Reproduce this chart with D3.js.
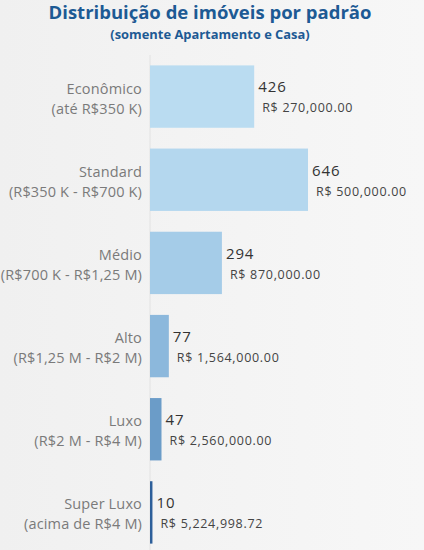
<!DOCTYPE html>
<html>
<head>
<meta charset="utf-8">
<script src="https://cdn.jsdelivr.net/npm/d3@7"></script>
<style>
  body { margin: 0; background: #f3f3f3; }
  #chart svg { display: block; }
</style>
</head>
<body>
<div id="chart"></div>
<script>
// categories (two-line labels)
const categories = ["Econômico", "Standard", "Médio", "Alto", "Luxo", "Super Luxo"];
const ranges = ["(até R$350 K)", "(R$350 K - R$700 K)", "(R$700 K - R$1,25 M)", "(R$1,25 M - R$2 M)", "(R$2 M - R$4 M)", "(acima de R$4 M)"];
const counts = [426, 646, 294, 77, 47, 10];
const medianPrices = ["R$ 270,000.00", "R$ 500,000.00", "R$ 870,000.00", "R$ 1,564,000.00", "R$ 2,560,000.00", "R$ 5,224,998.72"];
const barColors = ["#badcf1", "#b4d7ee", "#a5cce8", "#8cb8dc", "#6b9cc8", "#2d5f9a"];

const data = categories.map((c, i) => ({
  cat: c, range: ranges[i], count: counts[i], price: medianPrices[i], color: barColors[i]
}));

let dimensions = {
  width: 424,
  height: 550,
  axisX: 150
};

const svg = d3.select("#chart")
  .append("svg")
  .attr("width", dimensions.width)
  .attr("height", dimensions.height);

// background, slightly lighter toward the right
const grad = svg.append("defs").append("linearGradient")
  .attr("id", "bg").attr("x1", "0%").attr("x2", "100%").attr("y1", "0%").attr("y2", "0%");
grad.append("stop").attr("offset", "0%").attr("stop-color", "#f0f0f0");
grad.append("stop").attr("offset", "100%").attr("stop-color", "#f7f7f7");
svg.append("rect").attr("width", dimensions.width).attr("height", dimensions.height).attr("fill", "url(#bg)");

// titles
svg.append("text")
  .attr("x", 210).attr("y", 19)
  .attr("text-anchor", "middle")
  .style("font-family", "'Open Sans', sans-serif")
  .style("font-weight", 700)
  .style("font-size", "18.5px")
  .attr("fill", "#1d5a94")
  .text("Distribuição de imóveis por padrão");

svg.append("text")
  .attr("x", 210).attr("y", 39)
  .attr("text-anchor", "middle")
  .style("font-family", "'Open Sans', sans-serif")
  .style("font-weight", 700)
  .style("font-size", "12.9px")
  .attr("fill", "#1d5a94")
  .text("(somente Apartamento e Casa)");

// scales
const y = d3.scaleBand()
  .domain(categories)
  .range([55, 554])
  .paddingInner(0.25)
  .paddingOuter(0.125);

const x = d3.scaleLinear()
  .domain([0, 646])
  .range([dimensions.axisX, 308]);

// axis line
svg.append("line")
  .attr("x1", dimensions.axisX).attr("x2", dimensions.axisX)
  .attr("y1", 55).attr("y2", 550)
  .attr("stroke", "#e2e2e2");

// bars
svg.selectAll("rect.bar")
  .data(data)
  .join("rect")
  .attr("class", "bar")
  .attr("x", x(0))
  .attr("y", d => y(d.cat))
  .attr("width", d => Math.max(1.5, x(d.count) - x(0)))
  .attr("height", y.bandwidth())
  .attr("fill", d => d.color);

// category labels
const labels = svg.selectAll("g.lbl")
  .data(data)
  .join("g")
  .attr("class", "lbl")
  .attr("transform", d => `translate(142, ${y(d.cat) + y.bandwidth() / 2})`)
  .style("font-family", "'Open Sans', sans-serif")
  .style("font-size", "14.5px")
  .style("letter-spacing", "0.15px")
  .attr("fill", "#7a7a7a");

labels.append("text")
  .attr("text-anchor", "end")
  .attr("y", -3)
  .text(d => d.cat);
labels.append("text")
  .attr("text-anchor", "end")
  .attr("y", 17)
  .text(d => d.range);

// value labels
svg.selectAll("text.count")
  .data(data)
  .join("text")
  .attr("class", "count")
  .attr("x", d => Math.max(x(d.count), x(0) + 1.5) + 4)
  .attr("y", d => y(d.cat) + 27)
  .style("font-family", "'Open Sans', sans-serif")
  .style("font-size", "15px")
  .style("letter-spacing", "0.9px")
  .attr("fill", "#333")
  .text(d => d.count);

svg.selectAll("text.price")
  .data(data)
  .join("text")
  .attr("class", "price")
  .attr("x", d => Math.max(x(d.count), x(0) + 1.5) + 8)
  .attr("y", d => y(d.cat) + 47)
  .style("font-family", "'Open Sans', sans-serif")
  .style("font-size", "12.5px")
  .style("letter-spacing", "0.7px")
  .attr("fill", "#444")
  .text(d => d.price);
</script>
</body>
</html>
